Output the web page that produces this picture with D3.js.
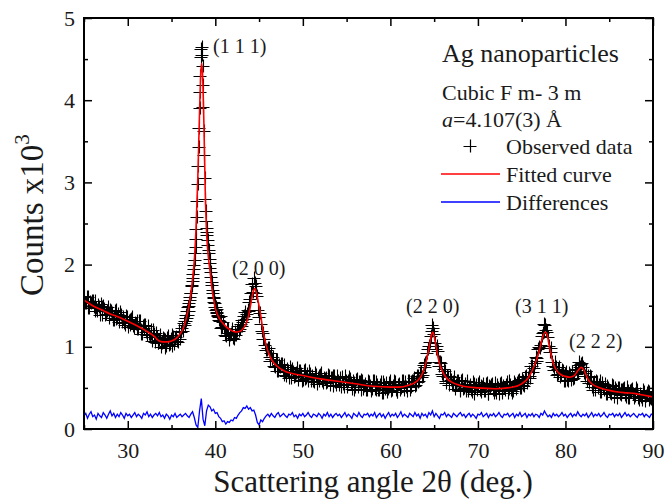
<!DOCTYPE html>
<html><head><meta charset="utf-8">
<script src="https://cdn.jsdelivr.net/npm/d3@7"></script>
<style>
body{margin:0;background:#fff}
text{font-family:'Liberation Serif','Times New Roman',serif;fill:#1a1a1a}
</style>
</head><body><svg id="c" width="667" height="500"></svg>
<script>
// ---------- DATA ----------
const xMajor = [30,40,50,60,70,80,90];
const xMinor = [25,35,45,55,65,75,85];
const yMajor = [0,1,2,3,4,5];
const yMinor = [0.5,1.5,2.5,3.5,4.5];

// Fitted curve (counts x10^3) at these angles
const fitAngle = [25,26,27,28,29,30,31,32,33,33.6,34,34.5,35,35.5,36,36.4,36.8,37,37.2,37.4,37.6,37.8,38,38.2,38.35,38.45,38.55,38.7,38.85,39,39.2,39.4,39.6,39.8,40,40.5,41,41.5,42,42.5,43,43.5,43.8,44.1,44.3,44.5,44.7,44.9,45.1,45.3,45.5,45.8,46.1,46.5,47,48,49,50,52,54,56,58,60,61,62,63,63.5,64,64.4,64.7,64.85,65,65.3,65.6,66,66.5,67,68,70,72,74,75,75.8,76.4,77,77.4,77.7,77.9,78.2,78.6,79,79.5,80,80.5,81,81.5,81.8,82.1,82.5,83,84,85,86,87,88,89,90];
const fitCounts = [1.57,1.50,1.45,1.40,1.36,1.31,1.26,1.20,1.13,1.07,1.06,1.06,1.07,1.10,1.16,1.24,1.40,1.50,1.65,1.82,2.05,2.45,3.05,3.85,4.35,4.45,4.30,3.70,2.90,2.40,2.10,1.92,1.72,1.58,1.47,1.34,1.27,1.22,1.19,1.18,1.20,1.28,1.38,1.55,1.66,1.71,1.65,1.55,1.44,1.30,1.17,1.02,0.92,0.83,0.77,0.70,0.67,0.65,0.61,0.58,0.55,0.52,0.51,0.51,0.53,0.58,0.64,0.78,0.98,1.15,1.18,1.13,0.95,0.80,0.69,0.61,0.57,0.53,0.50,0.49,0.51,0.55,0.63,0.76,0.95,1.12,1.18,1.15,0.98,0.80,0.71,0.66,0.64,0.63,0.65,0.72,0.75,0.72,0.62,0.55,0.50,0.47,0.45,0.44,0.43,0.41,0.39];

// Observed data: 25.0 -> 36.4 every 0.2 deg
const obsLowStart = 25.0, obsLowStep = 0.2;
const obsLow = [1.62,1.53,1.61,1.47,1.53,1.56,1.44,1.47,1.51,1.39,
1.48,1.50,1.39,1.43,1.35,1.45,1.41,1.33,1.45,1.35,
1.30,1.39,1.34,1.29,1.38,1.24,1.33,1.34,1.25,1.29,
1.31,1.22,1.31,1.16,1.23,1.26,1.14,1.16,1.20,1.07,
1.16,1.17,1.05,1.08,1.00,1.11,1.08,1.01,1.13,1.04,
1.01,1.12,1.09,1.07,1.19,1.09,1.23,1.29];
// Observed data: 25.1 -> 36.3 every 0.2 deg (interleaved readings)
const obsLowMidStart = 25.1;
const obsLowMid = [1.53,1.61,1.47,1.55,1.56,1.48,1.56,1.43,1.48,1.52,
1.39,1.46,1.40,1.49,1.40,1.44,1.32,1.43,1.34,1.40,
1.42,1.30,1.36,1.27,1.36,1.31,1.27,1.36,1.23,1.28,
1.22,1.31,1.16,1.25,1.26,1.18,1.25,1.12,1.16,1.20,
1.06,1.12,1.05,1.14,1.05,1.10,0.99,1.11,1.02,1.10,
1.14,1.04,1.12,1.06,1.19,1.18,1.19];
// Observed data: 36.5 -> 40.5 every 0.05 deg
const obsPeakStart = 36.5, obsPeakStep = 0.05;
const obsPeak = [1.31,1.26,1.35,1.31,1.39,1.35,1.43,1.39,1.48,1.44,
1.53,1.50,1.60,1.57,1.66,1.66,1.74,1.75,1.80,1.84,
1.88,1.95,1.99,2.06,2.14,2.22,2.31,2.43,2.58,2.77,
2.98,3.20,3.43,3.66,3.90,4.10,4.30,4.52,4.62,4.65,
4.55,4.42,4.18,3.92,3.62,3.33,3.05,2.80,2.65,2.53,
2.45,2.40,2.36,2.30,2.24,2.18,2.14,2.07,2.02,1.96,
1.91,1.85,1.79,1.75,1.69,1.66,1.61,1.59,1.54,1.53,
1.49,1.49,1.45,1.46,1.41,1.42,1.37,1.39,1.33,1.36,1.31];
// Observed data: 40.6 -> 90.0 every 0.2 deg
const obsHighStart = 40.6, obsHighStep = 0.2;
const obsHigh = [1.38,1.24,1.23,1.13,1.17,1.08,1.15,1.11,1.18,1.14,
1.25,1.22,1.33,1.30,1.42,1.40,1.55,1.58,1.76,1.84,
1.74,1.62,1.36,1.28,1.10,1.09,0.96,0.99,0.88,0.92,
0.87,0.76,0.84,0.70,0.76,0.79,0.66,0.69,0.73,0.62,
0.71,0.73,0.63,0.68,0.60,0.71,0.67,0.60,0.72,0.62,
0.58,0.67,0.63,0.59,0.68,0.55,0.64,0.66,0.58,0.62,
0.62,0.57,0.65,0.62,0.52,0.65,0.54,0.58,0.62,0.51,
0.55,0.64,0.51,0.58,0.61,0.49,0.56,0.51,0.61,0.57,
0.47,0.58,0.52,0.48,0.59,0.54,0.46,0.59,0.49,0.57,
0.47,0.54,0.44,0.57,0.49,0.45,0.56,0.52,0.47,0.58,
0.48,0.45,0.55,0.50,0.58,0.47,0.51,0.58,0.47,0.57,
0.59,0.52,0.64,0.57,0.68,0.63,0.78,0.76,0.93,1.01,
1.13,1.27,1.16,0.97,0.95,0.77,0.80,0.64,0.71,0.56,
0.63,0.64,0.53,0.57,0.49,0.59,0.55,0.48,0.60,0.50,
0.46,0.55,0.51,0.47,0.57,0.43,0.53,0.55,0.47,0.52,
0.55,0.46,0.56,0.43,0.51,0.55,0.44,0.48,0.53,0.42,
0.56,0.46,0.50,0.54,0.44,0.58,0.48,0.46,0.55,0.51,
0.58,0.50,0.61,0.54,0.63,0.56,0.69,0.64,0.77,0.74,
0.87,0.86,1.00,1.02,1.17,1.28,1.21,1.12,0.94,0.94,
0.77,0.81,0.66,0.73,0.63,0.72,0.59,0.67,0.60,0.68,
0.60,0.69,0.62,0.73,0.69,0.81,0.79,0.76,0.65,0.70,
0.64,0.64,0.51,0.55,0.47,0.57,0.53,0.45,0.56,0.47,
0.42,0.52,0.47,0.43,0.52,0.39,0.48,0.50,0.42,0.47,
0.49,0.41,0.51,0.38,0.46,0.49,0.38,0.42,0.47,0.35,
0.39,0.35,0.45,0.40,0.46,0.35,0.37,0.44];
// Observed data: 40.7 -> 89.9 every 0.2 deg (interleaved readings)
const obsHighMidStart = 40.7;
const obsHighMid = [1.23,1.30,1.14,1.22,1.22,1.14,1.22,1.09,1.14,1.19,
1.19,1.28,1.25,1.38,1.34,1.45,1.43,1.66,1.67,1.78,
1.65,1.45,1.41,1.19,1.17,1.02,0.96,0.99,0.83,0.85,
0.77,0.84,0.70,0.78,0.79,0.70,0.78,0.65,0.70,0.75,
0.62,0.69,0.64,0.74,0.65,0.70,0.58,0.70,0.61,0.67,
0.70,0.58,0.65,0.57,0.66,0.62,0.58,0.68,0.56,0.61,
0.56,0.66,0.53,0.62,0.64,0.57,0.65,0.53,0.59,0.63,
0.51,0.59,0.53,0.63,0.55,0.59,0.48,0.60,0.51,0.57,
0.60,0.49,0.55,0.47,0.57,0.52,0.49,0.59,0.47,0.53,
0.48,0.57,0.44,0.54,0.56,0.49,0.58,0.46,0.52,0.57,
0.45,0.53,0.48,0.59,0.51,0.57,0.46,0.59,0.51,0.59,
0.62,0.54,0.64,0.59,0.69,0.66,0.80,0.81,0.97,1.06,
1.19,1.23,1.05,1.01,0.81,0.82,0.67,0.73,0.59,0.65,
0.53,0.60,0.54,0.63,0.54,0.58,0.46,0.58,0.49,0.55,
0.58,0.46,0.53,0.45,0.55,0.50,0.47,0.57,0.45,0.51,
0.46,0.55,0.42,0.52,0.54,0.47,0.56,0.44,0.50,0.55,
0.44,0.52,0.47,0.57,0.49,0.54,0.44,0.57,0.49,0.56,
0.60,0.50,0.58,0.52,0.64,0.62,0.62,0.77,0.69,0.80,
0.83,0.97,0.98,1.13,1.18,1.26,1.18,1.01,0.99,0.81,
0.72,0.75,0.67,0.75,0.66,0.70,0.58,0.69,0.59,0.66,
0.69,0.61,0.72,0.67,0.78,0.76,0.80,0.68,0.71,0.58,
0.56,0.63,0.48,0.57,0.58,0.50,0.58,0.45,0.50,0.55,
0.42,0.50,0.44,0.54,0.45,0.50,0.38,0.50,0.41,0.48,
0.50,0.39,0.46,0.38,0.48,0.43,0.40,0.50,0.38,0.43,
0.38,0.47,0.34,0.44,0.45,0.38,0.46];

// Differences (offset) 25.0 -> 90.0 every 0.2 deg
const diffStart = 25.0, diffStep = 0.2;
const diffVals = [0.16,0.19,0.13,0.18,0.21,0.15,0.17,0.12,0.19,0.16,
0.14,0.20,0.17,0.13,0.18,0.22,0.16,0.19,0.14,0.18,
0.15,0.20,0.17,0.13,0.19,0.16,0.18,0.14,0.17,0.20,
0.15,0.18,0.16,0.13,0.19,0.17,0.21,0.15,0.18,0.14,
0.17,0.19,0.16,0.20,0.15,0.17,0.13,0.18,0.16,0.12,
0.17,0.15,0.19,0.14,0.16,0.18,0.15,0.17,0.19,0.16,
0.14,0.18,0.21,
0.14,0.05,0.02,0.22,0.37,0.12,0.04,0.22,0.29,0.27,
0.22,0.24,0.19,0.20,0.15,0.13,0.09,0.10,0.06,0.09,
0.08,0.11,0.10,0.14,0.13,0.17,0.20,0.22,0.26,0.25,
0.28,0.24,0.26,0.22,0.23,0.17,0.08,0.05,0.11,0.09,
0.13,0.16,
0.18,0.15,0.19,0.16,0.14,0.18,0.20,0.15,0.17,0.19,
0.16,0.14,0.18,0.17,0.20,0.15,0.17,0.13,0.18,0.16,
0.19,0.15,0.17,0.20,0.16,0.14,0.18,0.17,0.15,0.19,
0.17,0.13,0.18,0.16,0.20,0.15,0.18,0.14,0.17,0.19,
0.16,0.18,0.14,0.17,0.20,0.15,0.18,0.16,0.13,0.19,
0.17,0.15,0.20,0.16,0.14,0.18,0.17,0.19,0.15,0.18,
0.16,0.20,0.14,0.17,0.19,0.15,0.18,0.13,0.17,0.20,
0.15,0.18,0.16,0.19,0.14,0.17,0.21,0.15,0.18,0.16,
0.14,0.19,0.17,0.15,0.20,0.16,0.18,0.13,0.19,0.16,
0.18,0.14,0.20,0.17,0.22,0.15,0.19,0.16,0.13,0.18,
0.17,0.20,0.15,0.18,0.16,0.14,0.19,0.17,0.15,0.18,
0.20,0.16,0.18,0.14,0.17,0.19,0.15,0.18,0.16,0.13,
0.18,0.17,0.20,0.15,0.17,0.19,0.14,0.18,0.16,0.19,
0.15,0.17,0.20,0.16,0.14,0.18,0.17,0.19,0.15,0.17,
0.19,0.14,0.18,0.16,0.20,0.15,0.17,0.19,0.14,0.18,
0.16,0.19,0.15,0.18,0.17,0.14,0.19,0.17,0.22,0.18,
0.15,0.17,0.14,0.19,0.16,0.18,0.15,0.17,0.20,0.16,
0.18,0.14,0.17,0.19,0.15,0.18,0.16,0.21,0.17,0.15,
0.18,0.16,0.19,0.14,0.17,0.20,0.15,0.18,0.16,0.19,
0.15,0.17,0.20,0.16,0.14,0.18,0.17,0.19,0.15,0.18,
0.16,0.19,0.14,0.17,0.20,0.16,0.18,0.15,0.17,0.19,
0.16,0.14,0.18,0.17,0.19,0.15,0.18,0.16,0.14,0.18,
0.17];

const peakNames = ["(1 1 1)","(2 0 0)","(2 2 0)","(3 1 1)","(2 2 2)"];
const legendLabels = ["Observed data","Fitted curve","Differences"];
const titleText = "Ag nanoparticles";
const phaseText = "Cubic F m- 3 m";
const latticeText = "=4.107(3) Å";

// ---------- LAYOUT ----------
const svg = d3.select("#c");
const L = 84, R = 653, T = 18, B = 429;
const x = d3.scaleLinear().domain([25,90]).range([L,R]);
const y = d3.scaleLinear().domain([0,5]).range([B,T]);

const seg = (start, step, vals) => vals.map((v,i)=>({a: start + i*step, c: v}));
const observed = [].concat(
  seg(obsLowStart,obsLowStep,obsLow), seg(obsLowMidStart,obsLowStep,obsLowMid),
  seg(obsPeakStart,obsPeakStep,obsPeak),
  seg(obsHighStart,obsHighStep,obsHigh), seg(obsHighMidStart,obsHighStep,obsHighMid));
const fitted = fitAngle.map((a,i)=>({a, c: fitCounts[i]}));
const diffs = seg(diffStart, diffStep, diffVals);

svg.append("defs").append("clipPath").attr("id","clip")
  .append("rect").attr("x",L).attr("y",T).attr("width",R-L).attr("height",B-T);

const plot = svg.append("g").attr("clip-path","url(#clip)");

// observed markers
const hs = 6.5;
const crossPath = (cx, cy) => `M${Math.round(cx)-hs},${Math.round(cy)+0.5}h${2*hs}M${Math.round(cx)+0.5},${Math.round(cy)-hs}v${2*hs}`;
plot.append("g").selectAll("path").data(observed).join("path")
  .attr("d", d => crossPath(x(d.a), y(d.c)))
  .attr("stroke","#000").attr("stroke-width",1.1).attr("fill","none");

// fitted curve
plot.append("path").datum(fitted)
  .attr("d", d3.line().x(d=>x(d.a)).y(d=>y(d.c)).curve(d3.curveMonotoneX))
  .attr("fill","none").attr("stroke","#ff0000").attr("stroke-width",1.6);

// differences
plot.append("path").datum(diffs)
  .attr("d", d3.line().x(d=>x(d.a)).y(d=>y(d.c)))
  .attr("fill","none").attr("stroke","#0000ff").attr("stroke-width",1.3);

// axes
function styleAxis(g){
  g.select(".domain").remove();
  g.selectAll("line").attr("stroke","#000").attr("stroke-width",1.5);
  g.selectAll("text").style("font-family","'Liberation Serif',serif").style("font-size","22px").attr("fill","#1a1a1a");
}
svg.append("g").attr("transform",`translate(0,${B})`)
  .call(d3.axisBottom(x).tickValues(xMajor).tickSize(-8).tickSizeOuter(0).tickPadding(13).tickFormat(d3.format("d"))).call(styleAxis);
svg.append("g").attr("transform",`translate(0,${B})`)
  .call(d3.axisBottom(x).tickValues(xMinor).tickSize(-4).tickSizeOuter(0).tickFormat("")).call(styleAxis);
svg.append("g").attr("transform",`translate(0,${T})`)
  .call(d3.axisTop(x).tickValues(xMajor).tickSize(-8).tickSizeOuter(0).tickFormat("")).call(styleAxis);
svg.append("g").attr("transform",`translate(0,${T})`)
  .call(d3.axisTop(x).tickValues(xMinor).tickSize(-4).tickSizeOuter(0).tickFormat("")).call(styleAxis);
svg.append("g").attr("transform",`translate(${L},0)`)
  .call(d3.axisLeft(y).tickValues(yMajor).tickSize(-8).tickSizeOuter(0).tickPadding(9).tickFormat(d3.format("d"))).call(styleAxis);
svg.append("g").attr("transform",`translate(${L},0)`)
  .call(d3.axisLeft(y).tickValues(yMinor).tickSize(-4).tickSizeOuter(0).tickFormat("")).call(styleAxis);
svg.append("g").attr("transform",`translate(${R},0)`)
  .call(d3.axisRight(y).tickValues(yMajor).tickSize(-8).tickSizeOuter(0).tickFormat("")).call(styleAxis);
svg.append("g").attr("transform",`translate(${R},0)`)
  .call(d3.axisRight(y).tickValues(yMinor).tickSize(-4).tickSizeOuter(0).tickFormat("")).call(styleAxis);

svg.append("rect").attr("x",L).attr("y",T).attr("width",R-L).attr("height",B-T)
  .attr("fill","none").attr("stroke","#000").attr("stroke-width",2);

// axis titles
svg.append("text").attr("x",373).attr("y",492).attr("text-anchor","middle")
  .style("font-size","31px").text("Scattering angle 2θ (deg.)");
const yt = svg.append("text").attr("transform","translate(43,296) rotate(-90)")
  .style("font-size","33px");
yt.append("tspan").text("Counts x10");
yt.append("tspan").attr("dy",-14).style("font-size","21px").text("3");

// peak labels
const peakPos = [[213,53],[232,275],[406,313],[515,313],[569,348]];
svg.append("g").selectAll("text").data(peakNames).join("text")
  .attr("x",(d,i)=>peakPos[i][0]).attr("y",(d,i)=>peakPos[i][1])
  .style("font-size","20px").text(d=>d);

// info text
svg.append("text").attr("x",442).attr("y",62).style("font-size","26px").text(titleText);
svg.append("text").attr("x",442).attr("y",100).style("font-size","22px").text(phaseText);
const lt = svg.append("text").attr("x",442).attr("y",127).style("font-size","22px");
lt.append("tspan").style("font-style","italic").text("a");
lt.append("tspan").text(latticeText);

// legend
const legY = [146,174,202];
svg.append("path").attr("d",crossPath(470, legY[0]))
  .attr("stroke","#000").attr("stroke-width",1.2).attr("fill","none");
svg.append("line").attr("x1",441).attr("x2",500).attr("y1",legY[1]).attr("y2",legY[1]).attr("stroke","#ff0000").attr("stroke-width",1.5);
svg.append("line").attr("x1",441).attr("x2",500).attr("y1",legY[2]).attr("y2",legY[2]).attr("stroke","#0000ff").attr("stroke-width",1.5);
svg.append("g").selectAll("text").data(legendLabels).join("text")
  .attr("x",506).attr("y",(d,i)=>legY[i]+8).style("font-size","22px").text(d=>d);
</script></body></html>
